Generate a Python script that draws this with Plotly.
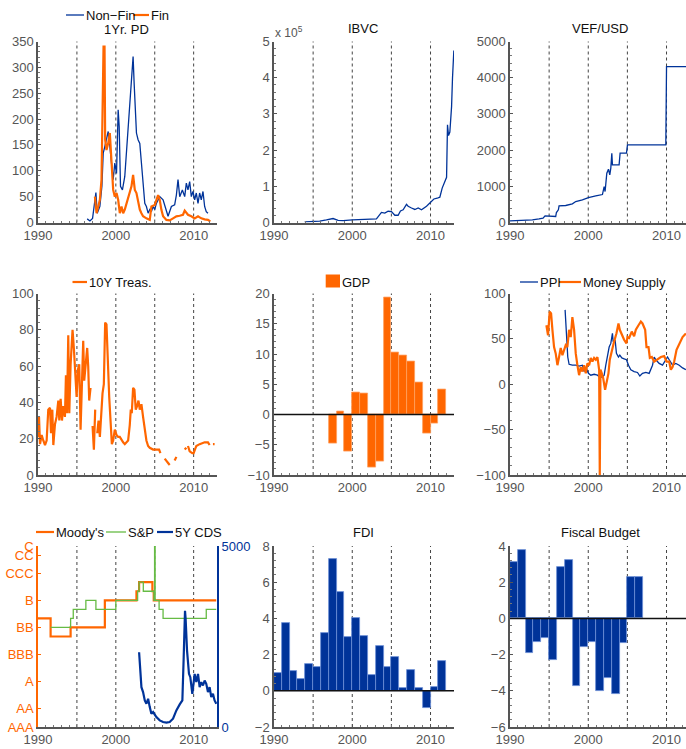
import plotly.graph_objects as go

BLUE = '#003399'
ORANGE = '#ff6600'
GREEN = '#66bb44'
FONT = 'Liberation Sans, Arial, Helvetica, sans-serif'

# ---------------- data ----------------
# 1Yr. PD
pd_nonfin_t = [1996.32, 1996.67, 1997.01, 1997.22, 1997.44, 1997.61, 1997.95, 1998.21, 1998.38, 1998.59,
               1998.80, 1999.02, 1999.23, 1999.44, 1999.66, 1999.87, 2000.09, 2000.30, 2000.43, 2000.60,
               2000.85, 2001.15, 2001.37, 2001.58, 2001.79, 2002.01, 2002.22, 2002.35, 2002.52, 2002.65,
               2002.86, 2003.08, 2003.29, 2003.50, 2003.72, 2003.93, 2004.15, 2004.36, 2004.57, 2004.79,
               2005.00, 2005.21, 2005.64, 2006.07, 2006.50, 2006.71, 2007.14, 2007.56, 2007.78, 2007.99,
               2008.21, 2008.55, 2008.85, 2009.06, 2009.27, 2009.49, 2009.70, 2009.91, 2010.13, 2010.34,
               2010.56, 2010.77, 2010.98, 2011.20, 2011.41, 2011.62, 2011.84]
pd_nonfin_v = [7, 3, 8, 31, 58, 18, 31, 70, 134, 147,
               160, 176, 147, 108, 83, 115, 95, 218, 186, 70,
               63, 89, 140, 173, 237, 270, 321, 270, 218, 173,
               160, 153, 115, 83, 37, 31, 18, 25, 21, 31,
               25, 37, 50, 44, 25, 12, 31, 34, 53, 83,
               50, 63, 50, 76, 63, 79, 50, 60, 44, 57,
               37, 57, 44, 60, 31, 21, 18]
pd_fin_t = [1997.31, 1997.52, 1997.74, 1997.95, 1998.16, 1998.29, 1998.42, 1998.55, 1998.63, 1998.80,
            1999.02, 1999.23, 1999.44, 1999.66, 1999.87, 2000.09, 2000.30, 2000.51, 2000.73, 2000.94,
            2001.15, 2001.37, 2001.58, 2001.79, 2002.01, 2002.22, 2002.44, 2002.65, 2002.86, 2003.08,
            2003.29, 2003.50, 2003.93, 2004.36, 2004.57, 2005.00, 2005.43, 2005.64, 2005.85, 2006.07,
            2006.50, 2006.92, 2007.35, 2007.78, 2008.21, 2008.63, 2008.85, 2009.27, 2009.70, 2010.13,
            2010.56, 2010.98, 2011.41, 2011.84, 2012.14]
pd_fin_v = [50, 18, 31, 44, 83, 199, 340, 340, 160, 140,
            153, 173, 128, 63, 50, 57, 44, 18, 31, 18,
            25, 37, 50, 57, 70, 92, 63, 57, 37, 25,
            18, 12, 8, 5, 31, 34, 53, 44, 25, 12,
            5, 4, 8, 12, 13, 15, 23, 15, 12, 8,
            12, 8, 6, 5, 2]

# IBVC (x 10^5)
ibvc_t = [1993.92, 1994.99, 1995.84, 1996.70, 1997.55, 1998.19, 1998.83, 2000.02, 2000.96, 2002.24,
          2003.09, 2003.73, 2004.16, 2004.58, 2005.01, 2005.44, 2005.86, 2006.16, 2006.50, 2006.93,
          2007.14, 2007.57, 2008.00, 2008.42, 2008.85, 2009.49, 2010.00, 2010.43, 2010.85, 2011.19,
          2011.49, 2011.83, 2012.05, 2012.17, 2012.30, 2012.47, 2012.69, 2012.81, 2012.98]
ibvc_v = [0.02, 0.02, 0.04, 0.07, 0.11, 0.06, 0.05, 0.07, 0.08, 0.08,
          0.10, 0.28, 0.26, 0.31, 0.30, 0.20, 0.20, 0.32, 0.35, 0.50,
          0.45, 0.40, 0.36, 0.40, 0.35, 0.45, 0.55, 0.65, 0.67, 0.70,
          0.95, 1.15, 1.25, 2.70, 2.40, 2.50, 3.20, 4.00, 4.75]

# VEF/USD
fx_t = [1990.0, 1991.58, 1992.86, 1993.71, 1994.22, 1994.48, 1995.42, 1995.84, 1995.93, 1996.18,
        1996.27, 1997.12, 1997.97, 1998.40, 1999.25, 2000.02, 2000.96, 2001.81, 2002.03, 2002.15,
        2002.37, 2002.58, 2002.75, 2002.88, 2003.01, 2003.09, 2003.94, 2004.07, 2004.88, 2005.01,
        2009.91, 2010.0, 2012.6]
fx_v = [46, 55, 74, 100, 120, 184, 166, 166, 276, 350,
        460, 470, 515, 580, 626, 690, 736, 773, 994, 856,
        1362, 1472, 1316, 1500, 1914, 1592, 1592, 1914, 1914, 2144,
        2144, 4306, 4306]

# 10Y Treas. (None = missing)
tr_t = [1990.00, 1990.13, 1990.26, 1990.47, 1990.68, 1990.90, 1991.11, 1991.32, 1991.54, 1991.67,
        1991.84, 1991.97, 1992.18, 1992.39, 1992.61, 1992.74, 1992.91, 1993.08, 1993.25, 1993.46,
        1993.59, 1993.72, 1993.89, 1994.02, 1994.19, 1994.32, 1994.44, 1994.62, 1994.79, 1994.96,
        1995.13, 1995.30, 1995.47, 1995.64, 1995.81, 1995.94, 1996.11, 1996.32, 1996.45, 1996.58,
        1996.75, 1996.88, 1997.01, 1997.18, 1997.35, 1997.48, 1997.61, 1997.78, 1997.95, 1998.12,
        1998.29, 1998.46, 1998.63, 1998.80, 1998.97, 1999.15, 1999.32, 1999.49, 1999.66, 1999.87,
        2000.09, 2000.30, 2000.51, 2000.73, 2000.94, 2001.15, 2001.37, 2001.58, 2001.79, 2001.92,
        2002.05, 2002.22, 2002.39, 2002.56, 2002.74, 2002.91, 2003.08, 2003.29, 2003.50, 2003.72,
        2003.93, 2004.15, 2004.36, 2004.79, 2005.21, 2005.56, 2005.73, 2006.0, 2006.28, 2006.71,
        2006.92, 2007.2, 2007.56, 2007.78, 2008.3, 2008.85, 2009.06, 2009.15, 2009.27, 2009.49,
        2009.83, 2010.00, 2010.34, 2010.77, 2011.41, 2011.84, 2012.05, 2012.2, 2012.48, 2012.69]
tr_v = [21, 32, 17, 22, 19, 16.5, 19, 36, 37, 23,
        36, 16.5, 28, 32, 41, 30, 42, 30, 38, 32,
        55, 34, 77, 34, 61, 74, 80, 69, 52, 43,
        58, 61, 25, 50, 74, 52, 61, 70, 60, 41,
        48, None, 27, 14, 36, None, 23, 30, 21, 34,
        45, 50, 84, 83, 60, 43, 30, 17, 19, 25,
        22, 21, 21, 19, 18, 17, 18, 19, 27.5, 36,
        34, 48, 47, 36, 38, 41, 36, 39, 32, 25,
        19, 16, 15, 14, 14, 14, 12, None, 9, 7,
        5.5, None, 8, 10, None, 14, 15, None, 16, 13,
        12, 12, 16, 17, 18, 18, 16.5, None, 17, 17]

# GDP (annual)
gdp_year = [1997, 1998, 1999, 2000, 2001, 2002, 2003, 2004, 2005, 2006, 2007, 2008, 2009, 2010, 2011]
gdp_val = [-4.8, 0.5, -6.1, 3.7, 3.5, -8.8, -7.7, 19.4, 10.3, 9.8, 8.8, 5.3, -3.2, -1.5, 4.2]

# PPI
ppi_t = [1997.04, 1997.21, 1997.38, 1997.55, 1997.97, 1998.40, 1998.83, 1999.25, 1999.47, 1999.68,
         2000.02, 2000.32, 2000.75, 2001.17, 2001.47, 2001.81, 2002.03, 2002.24, 2002.45, 2002.67,
         2002.88, 2003.09, 2003.18, 2003.43, 2003.60, 2003.86, 2004.03, 2004.29, 2004.58, 2004.88,
         2005.14, 2005.44, 2005.86, 2006.29, 2006.59, 2006.93, 2007.36, 2007.78, 2008.21, 2008.42,
         2008.64, 2009.06, 2009.49, 2009.91, 2010.13, 2010.34, 2010.77, 2011.19, 2011.62, 2012.05, 2012.47]
ppi_v = [82, 52, 30, 22, 21, 21, 20, 21, 14, 19,
         12, 10, 11, 10, 8, 8, 10, 21, 30, 41,
         45, 56, 47, 49, 34, 30, 32, 29, 28, 27,
         21, 16, 14, 13, 9, 12, 13, 12, 21, 30,
         27, 23, 21, 27, 30, 27, 21, 23, 21, 18, 16]

# Money Supply
m2_t = [1994.65, 1994.86, 1995.07, 1995.25, 1995.42, 1995.63, 1995.84, 1996.06, 1996.27, 1996.48,
        1996.70, 1996.91, 1997.12, 1997.33, 1997.55, 1997.76, 1997.97, 1998.19, 1998.40, 1998.61,
        1998.83, 1999.04, 1999.25, 1999.47, 1999.68, 1999.89, 2000.11, 2000.32, 2000.53, 2000.75,
        2000.96, 2001.17, 2001.39, 2001.47, 2001.56, 2001.73, 2001.90, 2002.15, 2002.32, 2002.58,
        2002.75, 2003.01, 2003.30, 2003.60, 2003.86, 2004.03, 2004.29, 2004.58, 2004.88, 2005.01,
        2005.22, 2005.56, 2005.86, 2006.08, 2006.42, 2006.72, 2006.93, 2007.27, 2007.44, 2007.70,
        2007.87, 2008.12, 2008.42, 2008.72, 2009.06, 2009.28, 2009.70, 2010.00, 2010.34, 2010.55,
        2010.77, 2010.98, 2011.28, 2011.54, 2011.83, 2012.05, 2012.47]
m2_v = [65, 54, 80, 78, 60, 41, 34, 21, 30, 40,
        32, 38, 43, 41, 60, 52, 74, 60, 34, 21,
        10, 19, 14, 21, 12, 23, 21, 29, 25, 29,
        27, 30, 16, -100, 16, 12, 7, -6, 3, 12,
        27, 38, 47, 56, 67, 60, 54, 49, 45, 52,
        51, 58, 53, 60, 65, 69, 67, 60, 41, 41,
        29, 30, 25, 27, 29, 30, 31, 25, 25, 16,
        19, 25, 38, 43, 49, 52, 56]

# Ratings (1 = AAA ... 21 = C)
rating_ticks = [1, 3, 6, 9, 12, 15, 18, 20, 21]
rating_labels = ['AAA', 'AA', 'A', 'BBB', 'BB', 'B', 'CCC', 'CC', 'C']
moodys_t = [1990.0, 1991.62, 1994.19, 1998.59, 2002.65, 2002.99, 2004.70, 2004.87, 2012.9]
moodys_v = [13, 11, 12, 15, 16, 17, 16, 15, 15]
sp_t = [1991.62, 1994.19, 1994.53, 1996.15, 1997.44, 2000.0, 2002.80, 2002.99, 2003.53, 2004.90,
        2004.98, 2005.05, 2005.56, 2006.07, 2011.62, 2012.9]
sp_v = [12, 13, 14, 15, 14, 15, 16, 17, 16, 15,
        22, 15, 14, 13, 14, 14]
cds_t = [2002.99, 2003.08, 2003.29, 2003.50, 2003.72, 2003.93, 2004.15, 2004.36, 2004.57, 2004.79,
         2005.21, 2005.64, 2006.07, 2006.50, 2006.92, 2007.35, 2007.78, 2008.21, 2008.55, 2008.72,
         2008.89, 2008.97, 2009.15, 2009.40, 2009.57, 2009.83, 2010.13, 2010.34, 2010.56, 2010.77,
         2010.98, 2011.20, 2011.41, 2011.62, 2011.84, 2012.05, 2012.26, 2012.48, 2012.69, 2012.91]
cds_v = [2064, 1835, 1100, 963, 734, 642, 780, 550, 367, 413,
         275, 183, 138, 119, 138, 230, 459, 624, 734, 1927,
         3211, 2982, 2110, 1468, 1376, 917, 1468, 1239, 1468, 1100,
         1239, 1147, 1284, 1193, 963, 1100, 826, 917, 734, 642]

# FDI (annual)
fdi_year = list(range(1990, 2012))
fdi_val = [0.97, 3.73, 1.1, 0.64, 1.47, 1.34, 3.2, 7.28, 5.48, 2.98, 4.03, 3.03, 0.88, 2.46, 1.34,
           1.89, 0.15, 1.16, 0.15, -0.95, 0.2, 1.65]

# Fiscal Budget (annual)
fisc_year = list(range(1990, 2007))
fisc_val = [3.1, 3.8, -1.92, -1.31, -1.1, -2.3, 2.86, 3.22, -3.74, -1.57, -1.29, -4.02, -3.28, -4.15,
            -1.38, 2.27, 2.27]

# ---------------- layout helpers ----------------
# the page body margin is removed (post_script), so the figure fills the whole window
OFF = 0
W, H = 686 - OFF, 749 - OFF


def fx(p):  # page pixel x -> paper fraction
    return (p - OFF) / W


def fy(p):  # page pixel y -> paper fraction
    return 1 - (p - OFF) / H


col_dom = [[fx(38), fx(217)], [fx(274), fx(454)], [fx(510), 1.0]]
row_dom = [[fy(222.5), fy(41.5)], [fy(475), fy(293.5)], [fy(727), fy(546)]]
yranges = [[0, 350], [0, 5], [0, 5000], [0, 100], [-10, 20], [-100, 100], [1, 21], [-2, 8], [-6, 4]]
ydticks = [50, 1, 1000, 20, 5, 50, None, 2, 2]
col3_end = 1990 + (686 - 510) / (180 / 23)

fig = go.Figure()


def ax(k):
    return ('x' if k == 1 else f'x{k}'), ('y' if k == 1 else f'y{k}')


def mid(years):
    return [y + 0.5 for y in years]


W_THIN, W_THICK = 1.3, 2.2
# panel 1
fig.add_trace(go.Scatter(x=pd_nonfin_t, y=pd_nonfin_v, name='Non\u2212Fin', mode='lines',
                         line=dict(color=BLUE, width=W_THIN), xaxis='x', yaxis='y'))
fig.add_trace(go.Scatter(x=pd_fin_t, y=pd_fin_v, name='Fin', mode='lines',
                         line=dict(color=ORANGE, width=W_THICK), xaxis='x', yaxis='y'))
# panel 2
fig.add_trace(go.Scatter(x=ibvc_t, y=ibvc_v, name='IBVC', mode='lines',
                         line=dict(color=BLUE, width=W_THIN), xaxis='x2', yaxis='y2'))
# panel 3
fig.add_trace(go.Scatter(x=fx_t, y=fx_v, name='VEF/USD', mode='lines',
                         line=dict(color=BLUE, width=W_THIN), xaxis='x3', yaxis='y3'))
# panel 4
fig.add_trace(go.Scatter(x=tr_t, y=tr_v, name='10Y Treas.', mode='lines', connectgaps=False,
                         line=dict(color=ORANGE, width=W_THICK), xaxis='x4', yaxis='y4'))
# panel 5
fig.add_trace(go.Bar(x=mid(gdp_year), y=gdp_val, width=1.0, name='GDP',
                     marker=dict(color=ORANGE, line=dict(color='#ffa060', width=0.8)),
                     xaxis='x5', yaxis='y5'))
# panel 6
fig.add_trace(go.Scatter(x=ppi_t, y=ppi_v, name='PPI', mode='lines',
                         line=dict(color=BLUE, width=W_THIN), xaxis='x6', yaxis='y6'))
fig.add_trace(go.Scatter(x=m2_t, y=m2_v, name='Money Supply', mode='lines',
                         line=dict(color=ORANGE, width=W_THICK), xaxis='x6', yaxis='y6'))
# panel 7
fig.add_trace(go.Scatter(x=moodys_t, y=moodys_v, name="Moody's", mode='lines', line_shape='hv',
                         line=dict(color=ORANGE, width=W_THICK), xaxis='x7', yaxis='y7'))
fig.add_trace(go.Scatter(x=sp_t, y=sp_v, name='S&P', mode='lines', line_shape='hv',
                         line=dict(color=GREEN, width=W_THIN), xaxis='x7', yaxis='y7'))
fig.add_trace(go.Scatter(x=cds_t, y=cds_v, name='5Y CDS', mode='lines',
                         line=dict(color=BLUE, width=W_THICK), xaxis='x7', yaxis='y10'))
# panel 8
fig.add_trace(go.Bar(x=mid(fdi_year), y=fdi_val, width=1.0, name='FDI',
                     marker=dict(color=BLUE, line=dict(color='#6d8fd6', width=0.8)),
                     xaxis='x8', yaxis='y8'))
# panel 9
fig.add_trace(go.Bar(x=mid(fisc_year), y=fisc_val, width=1.0, name='Fiscal Budget',
                     marker=dict(color=BLUE, line=dict(color='#6d8fd6', width=0.8)),
                     xaxis='x9', yaxis='y9'))

layout = dict(
    width=W, height=H, margin=dict(l=0, r=0, t=0, b=0, autoexpand=False),
    paper_bgcolor='white', plot_bgcolor='white', showlegend=False,
    font=dict(family=FONT, size=13, color='#222'),
    bargap=0, barmode='overlay',
)

shapes = []
for k in range(1, 10):
    r, c = (k - 1) // 3, (k - 1) % 3
    xn, yn = ax(k)
    xkey = 'xaxis' if k == 1 else f'xaxis{k}'
    ykey = 'yaxis' if k == 1 else f'yaxis{k}'
    xr = [1990, col3_end] if c == 2 else [1990, 2013]
    layout[xkey] = dict(domain=col_dom[c], anchor=yn, range=xr, tickvals=[1990, 2000, 2010],
                        showgrid=False, zeroline=False, showline=True, linecolor='#555', linewidth=1.5,
                        ticks='inside', ticklen=3, tickcolor='#555',
                        minor=dict(dtick=1, tick0=1990, ticks='inside', ticklen=2, tickcolor='#777'),
                        tickfont=dict(size=13, color='#555'), fixedrange=True)
    ycfg = dict(domain=row_dom[r], anchor=xn, range=yranges[k - 1],
                showgrid=False, zeroline=False, showline=True, linecolor='#555', linewidth=1.5,
                ticks='inside', ticklen=3, tickcolor='#555',
                tickfont=dict(size=13, color='#555'), fixedrange=True)
    if k == 7:
        ycfg.update(tickvals=rating_ticks, ticktext=rating_labels, linecolor=ORANGE,
                    tickcolor=ORANGE, tickfont=dict(size=13, color=ORANGE))
    else:
        ycfg.update(dtick=ydticks[k - 1], tick0=yranges[k - 1][0],
                    minor=dict(dtick=ydticks[k - 1] / 5, ticks='inside', ticklen=2, tickcolor='#777'))
    layout[ykey] = ycfg
    for yr in [1995, 2000, 2005, 2010]:
        shapes.append(dict(type='line', xref=xn, yref=f'{yn} domain', x0=yr, x1=yr, y0=0, y1=1,
                           line=dict(color='#444', width=1, dash='dot'), layer='below'))
    if k in (5, 8, 9):
        shapes.append(dict(type='line', xref=f'{xn} domain', yref=yn, x0=0, x1=1, y0=0, y1=0,
                           line=dict(color='#111', width=1.5), layer='above'))

layout['yaxis10'] = dict(overlaying='y7', side='right', anchor='x7', range=[0, 5000],
                         tickvals=[0, 5000], showgrid=False, zeroline=False, showline=True,
                         linecolor=BLUE, linewidth=2, ticks='inside', ticklen=3, tickcolor=BLUE,
                         tickfont=dict(size=13, color=BLUE), fixedrange=True)

ann = []


def text_at(text, xpx, ypx, anchor='left', size=13, color='#111'):
    ann.append(dict(text=text, xref='paper', yref='paper', x=fx(xpx), y=fy(ypx),
                    xanchor=anchor, yanchor='middle', showarrow=False, borderpad=0,
                    font=dict(size=size, color=color, family=FONT)))


# compact legends: (label, colour, width, line x-start px, line x-end px, y px)
legend_items = [
    ('Non\u2212Fin', BLUE, W_THIN, 66, 84, 15),
    ('Fin', ORANGE, W_THICK, 133, 149, 15),
    ('10Y Treas.', ORANGE, W_THICK, 72.5, 87, 282),
    ('PPI', BLUE, W_THIN, 520, 538, 282),
    ('Money Supply', ORANGE, W_THICK, 559, 581, 282),
    ("Moody's", ORANGE, W_THICK, 36, 54, 532),
    ('S&P', GREEN, W_THIN, 106, 126, 532),
    ('5Y CDS', BLUE, W_THICK, 157, 173, 532),
]
for lab, colr, lw, x0, x1, yy in legend_items:
    shapes.append(dict(type='line', xref='paper', yref='paper', x0=fx(x0), x1=fx(x1),
                       y0=fy(yy), y1=fy(yy), line=dict(color=colr, width=lw)))
    text_at(lab, x1 + 0.5, yy)
# GDP legend (bar patch)
shapes.append(dict(type='rect', xref='paper', yref='paper', x0=fx(325.7), x1=fx(340),
                   y0=fy(287.5), y1=fy(274.5), fillcolor=ORANGE, line=dict(width=0)))
text_at('GDP', 340.5, 282)

# panel titles
text_at('1Yr. PD', 126.7, 29, 'center')
text_at('IBVC', 363.3, 28.5, 'center')
text_at('VEF/USD', 600, 28.5, 'center')
text_at('FDI', 363.3, 532, 'center')
text_at('Fiscal Budget', 600, 532, 'center')
text_at('x 10<sup>5</sup>', 274, 32, 'left', 12, '#555')

layout['shapes'] = shapes
layout['annotations'] = ann

fig.update_layout(**layout)
fig.write_html('out.html', config={'displayModeBar': False},
               post_script="document.body.style.margin='0px';document.body.style.overflow='hidden';")
